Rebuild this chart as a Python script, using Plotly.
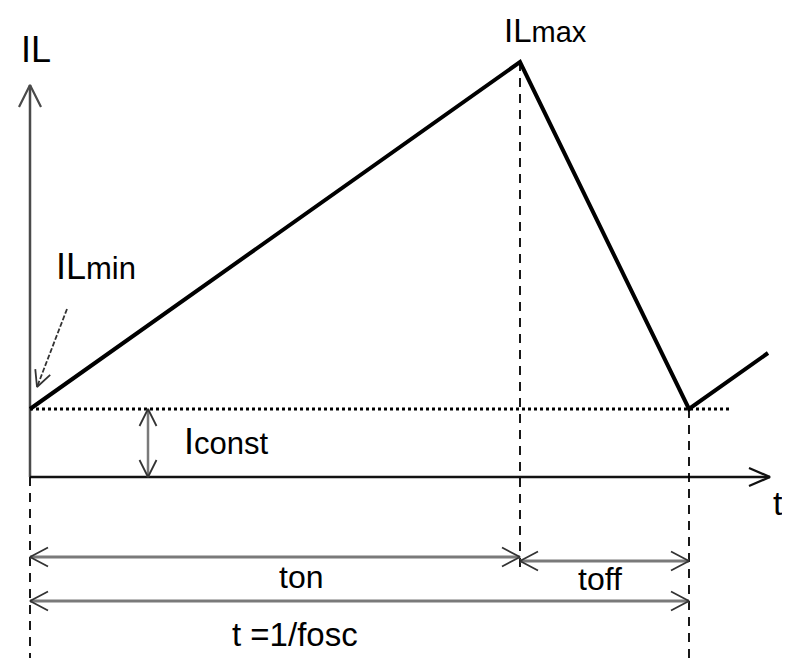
import plotly.graph_objects as go

# ---- data (diagram units: 1 unit = one time / current step) ----
t_on = 4.90
t_off = 1.69
t_next = 7.38
IL_min = 0.68
IL_max = 4.15
IL_next = 1.24
wave_t = [0.0, t_on, t_on + t_off, t_next]
wave_i = [IL_min, IL_max, IL_min, IL_next]

axis_t_end = 7.40
axis_i_end = 3.92
dotted_end = 7.00
iconst_t = 1.18
dim_on_y = -0.80
dim_off_y = -0.84
dim_T_y = -1.24
dash_on_bottom = -0.90
y_bottom = -1.81
ilmin_ptr = [(0.37, 1.68), (0.07, 0.90)]

labels = [
    ("IL", 0.06, 4.28, 36),
    ("IL<span style='font-size:29px'>max</span>", 5.15, 4.47, 33),
    ("IL<span style='font-size:31px'>min</span>", 0.66, 2.11, 36),
    ("I<span style='font-size:31px'>const</span>", 1.96, 0.36, 36),
    ("t", 7.48, -0.26, 34),
    ("ton", 2.71, -1.0, 32),
    ("toff", 5.70, -1.02, 32),
    ("t =1/fosc", 2.65, -1.57, 33),
]

FONT = "Liberation Sans Narrow, Liberation Sans, Arial, sans-serif"

fig = go.Figure()


def seg(xs, ys, color, width, dash="solid"):
    fig.add_trace(go.Scatter(x=xs, y=ys, mode="lines", hoverinfo="skip",
                             line=dict(color=color, width=width, dash=dash),
                             showlegend=False))


def vee(tx, ty, ux, uy, color, width, length=0.19, half=0.09):
    # open V arrowhead, tip at (tx,ty), pointing along unit vector (ux,uy)
    n = (ux ** 2 + uy ** 2) ** 0.5
    ux, uy = ux / n, uy / n
    px, py = -uy, ux
    bx, by = tx - ux * length, ty - uy * length
    seg([bx + px * half, tx, bx - px * half], [by + py * half, ty, by - py * half], color, width)


AX = "#4a4a4a"
DIM = "#7a7a7a"
HEAD = "#333333"

# axes
seg([0, 0], [0, axis_i_end], AX, 2.5)
vee(0, axis_i_end, 0, 1, AX, 2.2, 0.22, 0.11)
seg([0, axis_t_end], [0, 0], "#111111", 2.5)
vee(axis_t_end, 0, 1, 0, "#111111", 2.2, 0.21, 0.09)

# dotted Iconst level
seg([0, dotted_end], [IL_min, IL_min], "black", 3, "dot")

# dashed verticals
seg([0, 0], [0, y_bottom], "black", 1.8, "9px,7px")
seg([t_on, t_on], [IL_max, dash_on_bottom], "black", 1.8, "9px,7px")
seg([t_on + t_off, t_on + t_off], [IL_min, y_bottom], "black", 1.8, "9px,7px")

# waveform
seg(wave_t, wave_i, "black", 4)

# Iconst double arrow
seg([iconst_t, iconst_t], [0, IL_min], DIM, 2.5)
vee(iconst_t, IL_min, 0, 1, HEAD, 1.8, 0.17, 0.085)
vee(iconst_t, 0, 0, -1, HEAD, 1.8, 0.17, 0.085)

# dimension arrows
for (a, b, yy) in [(0, t_on, dim_on_y), (t_on, t_on + t_off, dim_off_y), (0, t_on + t_off, dim_T_y)]:
    seg([a, b], [yy, yy], DIM, 2.8)
    vee(a, yy, -1, 0, HEAD, 1.8, 0.18, 0.095)
    vee(b, yy, 1, 0, HEAD, 1.8, 0.18, 0.095)

# ILmin pointer
(x0, y0), (x1, y1) = ilmin_ptr
seg([x0, x1], [y0, y1], "#333333", 1.8, "5px,2px")
vee(x1, y1, x1 - x0, y1 - y0, "#333333", 1.8, 0.16, 0.08)

for txt, x, y, size in labels:
    fig.add_annotation(x=x, y=y, text=txt, showarrow=False,
                       font=dict(family=FONT, size=size, color="black"),
                       xanchor="center", yanchor="middle", borderpad=0)

# the page body adds an 8px offset, so the figure is 782x650 and its ranges
# cover the visible part of the window
fig.update_layout(
    width=782, height=650,
    margin=dict(l=0, r=0, t=0, b=0),
    paper_bgcolor="white", plot_bgcolor="white",
    xaxis=dict(range=[-0.22, 7.60], visible=False, fixedrange=True),
    yaxis=dict(range=[-1.81, 4.69], visible=False, fixedrange=True),
    showlegend=False,
)

fig.write_html("out.html")
